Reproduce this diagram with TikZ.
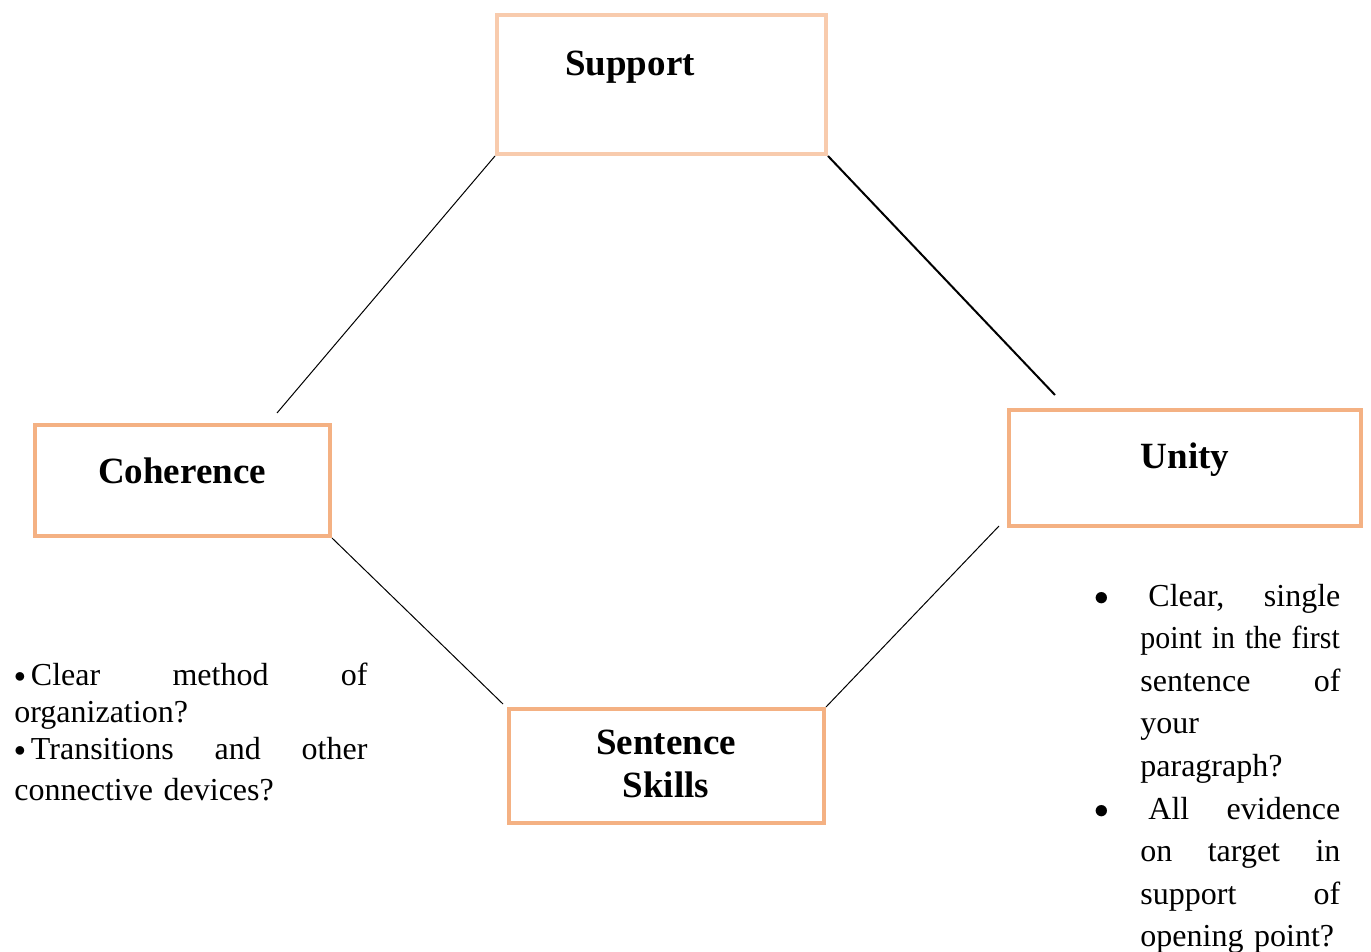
\documentclass[tikz,border=0pt]{standalone}
\usepackage{fontspec}
\setmainfont{Liberation Serif}
\usepackage{graphicx}
\usepackage{tikz}
\usetikzlibrary{positioning}
\usepackage{xcolor}
\definecolor{peach}{RGB}{244,177,131}
\definecolor{lightpeach}{RGB}{248,203,173}
\newcommand{\smalldot}{\raisebox{1.5pt}{\scalebox{0.65}{$\bullet$}}}
\newcommand{\bigdot}{\raisebox{0.5pt}{\scalebox{0.85}{$\bullet$}}}

\begin{document}
\begin{tikzpicture}[x=0.5pt, y=-0.5pt, every node/.style={inner sep=0pt}]
\tikzset{card/.style={draw=peach, line width=2pt, rectangle},
  head/.style={font=\fontsize{18.5}{21.5}\selectfont\bfseries, align=center},
  notes/.style={font=\fontsize{16}{18.5}\selectfont, align=left}}
\useasboundingbox (0,0) rectangle (1371,952);
% the four boxes
\node[card, draw=lightpeach, minimum width=164.5pt, minimum height=69.5pt] (sup) at (661.5,84.5) {};
\node[card, minimum width=147.5pt, minimum height=55.5pt] (coh) at (182.5,480.5) {};
\node[card, minimum width=176pt, minimum height=58pt] (uni) at (1185,468) {};
\node[card, minimum width=157.5pt, minimum height=57pt] (sen) at (666.5,766) {};
\node[head] (supT) at (630,67) {Support};
\node[head] (cohT) at (182,471) {Coherence};
\node[head] (uniT) at (1185,460) {Unity};
\node[head] (senT) at (666,764) {Sentence\\Skills};
% loose ends of the links
\coordinate (c1) at (277,413);
\coordinate (c2) at (1055,395);
\coordinate (c3) at (503,704);
\coordinate (c4) at (999,526);
\draw[line width=0.5pt] (sup.south west) -- (c1);
\draw[line width=1pt] (sup.south east) -- (c2);
\draw[line width=0.5pt] (coh.south east) -- (c3);
\draw[line width=0.5pt] (sen.north east) -- (c4);
% questions
\node[notes, text width=176.5pt, anchor=base west] (cohQ) at (14,685)
  {\smalldot\,Clear\hfill method\hfill of\\
   organization?\\
   \smalldot\,Transitions\hfill and\hfill other\\[2pt]
   connective devices?};
\node[notes, text width=123pt, anchor=base west, font=\fontsize{16}{21.3}\selectfont] (uniQ) at (1094,606)
  {\makebox[23pt][l]{\bigdot}\hspace{4pt}Clear,\hfill single\\
   \hspace*{23pt}\scalebox{0.935}[1]{point in the first}\\
   \hspace*{23pt}sentence\hfill of\\
   \hspace*{23pt}your\\
   \hspace*{23pt}paragraph?\\
   \makebox[23pt][l]{\bigdot}\hspace{4pt}All\hfill evidence\\
   \hspace*{23pt}on\hfill target\hfill in\\
   \hspace*{23pt}support\hfill of\\
   \hspace*{23pt}opening point?};
\end{tikzpicture}
\end{document}
